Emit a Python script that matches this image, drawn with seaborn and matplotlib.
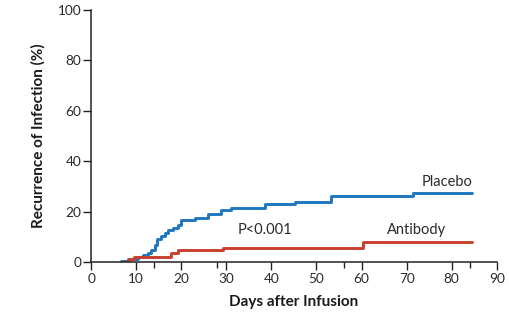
import seaborn as sns
import matplotlib.pyplot as plt
import pandas as pd

# values
placebo_days = [6.6, 8.1, 10.4, 11.5, 12.6, 13.3, 14.1, 14.6, 15.5, 16.3, 17.0, 18.2,
                19.3, 20.0, 23.0, 25.9, 28.9, 31.1, 38.5, 45.2, 53.3, 71.5, 84.6]
placebo_pct = [0.4, 1.0, 1.9, 2.8, 3.7, 4.8, 6.7, 9.0, 10.3, 11.6, 12.7, 13.4,
               14.7, 16.7, 17.3, 18.9, 20.6, 21.6, 22.9, 23.7, 26.2, 27.5, 27.5]
antibody_days = [7.8, 8.5, 9.6, 17.8, 19.3, 29.3, 60.4, 84.6]
antibody_pct = [0.4, 1.0, 2.1, 3.4, 4.6, 5.7, 7.8, 7.8]

x_ticks = [0, 10, 20, 30, 40, 50, 60, 70, 80, 90]
x_minor = [14, 28, 56, 84]
y_ticks = [0, 20, 40, 60, 80, 100]

df = pd.concat([
    pd.DataFrame({'day': placebo_days, 'pct': placebo_pct, 'group': 'Placebo'}),
    pd.DataFrame({'day': antibody_days, 'pct': antibody_pct, 'group': 'Antibody'}),
])

sns.set_style('ticks')
plt.rcParams['font.family'] = ['Lato', 'DejaVu Sans']

fig = plt.figure(figsize=(5.09, 3.21), dpi=100)
ax = fig.add_axes([0.179, 0.184, 0.797, 0.785])

palette = {'Placebo': '#1f77c0', 'Antibody': '#c8402c'}
sns.lineplot(data=df, x='day', y='pct', hue='group', palette=palette,
             estimator=None, sort=False, drawstyle='steps-post',
             linewidth=2.1, legend=False, ax=ax)

ax.set_xlim(0, 90)
ax.set_ylim(0, 100)
ax.set_xticks(x_ticks)
ax.set_xticks(x_minor, minor=True)
ax.set_yticks(y_ticks)
ax.tick_params(axis='both', which='major', length=6, width=1, labelsize=9.8,
               color='#222222', labelcolor='#2a2a2a')
ax.tick_params(axis='x', which='minor', length=4, width=1, color='#222222')
ax.tick_params(axis='y', pad=1)
ax.tick_params(axis='x', pad=2)
for s in ['left', 'bottom']:
    ax.spines[s].set_linewidth(1.1)
    ax.spines[s].set_color('#222222')
sns.despine(ax=ax)

ax.set_xlabel('Days after Infusion', fontsize=11, fontweight='bold', labelpad=7,
              color='#1a1a1a')
ax.set_ylabel('Recurrence of Infection (%)', fontsize=11, fontweight='bold', labelpad=9,
              color='#1a1a1a')

ax.text(84.6, 31.8, 'Placebo', ha='right', va='center', fontsize=10.5, color='#2a2a2a')
ax.text(78.8, 12.5, 'Antibody', ha='right', va='center', fontsize=10.5, color='#2a2a2a')
ax.text(32.5, 12.5, 'P<0.001', ha='left', va='center', fontsize=10.5, color='#2a2a2a')

fig.savefig('out.png', dpi=100)
